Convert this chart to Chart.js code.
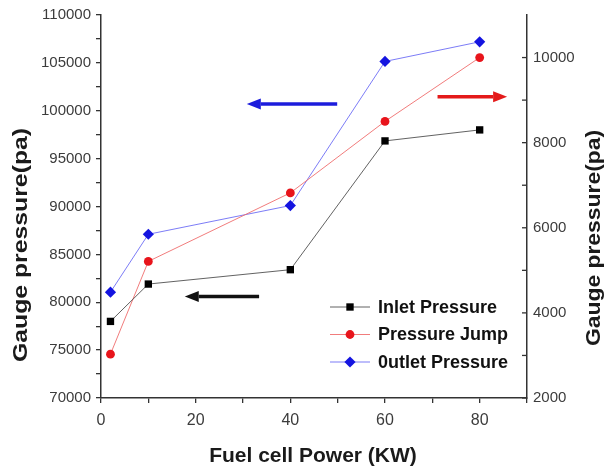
<!DOCTYPE html>
<html>
<head>
<meta charset="utf-8">
<script src="https://cdn.jsdelivr.net/npm/chart.js"></script>
<style>
html, body { margin: 0; padding: 0; background: #fff; }
#wrap { width: 605px; height: 473px; }
</style>
</head>
<body>
<div id="wrap"><canvas id="chart" width="605" height="473"></canvas></div>
<script>
// values
const powerKW = [2, 10, 40, 60, 80];
const inletPressure = [78000, 81900, 83400, 96850, 98000];
const pressureJump = [3030, 5210, 6820, 8500, 10000];
const outletPressure = [81050, 87100, 90100, 105150, 107200];
const seriesNames = ['Inlet Pressure', 'Pressure Jump', '0utlet Pressure'];
const xTitle = 'Fuel cell Power (KW)';
const yTitle = 'Gauge pressure(pa)';

// arrows in data units (x, left axis)
const arrowMarks = [
    { x1: 49.9, x2: 30.8, y: 100700, color: '#1c1cdc' },
    { x1: 71.1, x2: 85.8, y: 101450, color: '#e41a1a' },
    { x1: 33.4, x2: 17.7, y: 80600, color: '#111111' }
];

const toPoints = (ys) => ys.map((v, i) => ({ x: powerKW[i], y: v }));

const axisColor = '#333333';
const tickColor = '#3c3c3c';

const seriesStyle = [
    { line: 'rgba(70, 70, 70, 0.85)', fill: '#000000', style: 'rect', r: 5.2 },
    { line: 'rgba(240, 110, 110, 0.9)', fill: '#e8141b', style: 'circle', r: 4.4 },
    { line: 'rgba(110, 110, 245, 0.9)', fill: '#1414e0', style: 'rectRot', r: 5.6 }
];

function drawMarker(ctx, style, r, x, y) {
    if (Chart.helpers && Chart.helpers.drawPoint) {
        Chart.helpers.drawPoint(ctx, { pointStyle: style, radius: r, borderWidth: 0, rotation: 0 }, x, y);
        return;
    }
    ctx.beginPath();
    ctx.arc(x, y, r, 0, Math.PI * 2);
    ctx.fill();
}

const extras = {
    id: 'extras',
    afterDraw(chart) {
        const ctx = chart.ctx;
        const xs = chart.scales.x, ys = chart.scales.y, y2 = chart.scales.y2;
        ctx.save();

        // inward ticks on the right axis
        ctx.strokeStyle = axisColor;
        ctx.lineWidth = 1.3;
        y2.ticks.forEach(t => {
            if (t.value >= y2.max) return;
            const py = y2.getPixelForValue(t.value);
            ctx.beginPath();
            ctx.moveTo(y2.left, py);
            ctx.lineTo(y2.left - 5, py);
            ctx.stroke();
        });

        // arrows
        arrowMarks.forEach(a => {
            const px1 = xs.getPixelForValue(a.x1);
            const px2 = xs.getPixelForValue(a.x2);
            const py = ys.getPixelForValue(a.y);
            const dir = px2 > px1 ? 1 : -1;
            const head = 14;
            ctx.strokeStyle = a.color;
            ctx.fillStyle = a.color;
            ctx.lineWidth = 3.5;
            ctx.beginPath();
            ctx.moveTo(px1, py);
            ctx.lineTo(px2 - dir * head, py);
            ctx.stroke();
            ctx.beginPath();
            ctx.moveTo(px2, py);
            ctx.lineTo(px2 - dir * head, py - 5.5);
            ctx.lineTo(px2 - dir * head, py + 5.5);
            ctx.closePath();
            ctx.fill();
        });

        // legend
        ctx.font = 'bold 18px "Liberation Sans", Arial, sans-serif';
        ctx.textBaseline = 'middle';
        ctx.textAlign = 'left';
        seriesNames.forEach((name, i) => {
            const s = seriesStyle[i];
            const ly = 307 + i * 27.5;
            ctx.strokeStyle = s.line;
            ctx.lineWidth = 1;
            ctx.beginPath();
            ctx.moveTo(330, ly);
            ctx.lineTo(370, ly);
            ctx.stroke();
            ctx.fillStyle = s.fill;
            drawMarker(ctx, s.style, s.r, 350, ly);
            ctx.fillStyle = '#111111';
            ctx.fillText(name, 378, ly + 1);
        });

        // axis titles
        ctx.fillStyle = '#1a1a1a';
        ctx.font = 'bold 21px "Liberation Sans", Arial, sans-serif';
        ctx.textAlign = 'center';
        ctx.fillText(xTitle, 313, 456);

        ctx.save();
        ctx.translate(21, 245);
        ctx.rotate(-Math.PI / 2);
        ctx.scale(1.18, 1);
        ctx.fillText(yTitle, 0, 0);
        ctx.restore();

        ctx.save();
        ctx.translate(594, 238);
        ctx.rotate(-Math.PI / 2);
        ctx.scale(1.09, 1);
        ctx.fillText(yTitle, 0, 0);
        ctx.restore();

        ctx.restore();
    }
};

new Chart(document.getElementById('chart'), {
    type: 'line',
    data: {
        datasets: [
            {
                label: seriesNames[0],
                data: toPoints(inletPressure),
                yAxisID: 'y',
                borderColor: seriesStyle[0].line,
                borderWidth: 1,
                pointStyle: seriesStyle[0].style,
                pointRadius: seriesStyle[0].r,
                pointBackgroundColor: seriesStyle[0].fill,
                pointBorderWidth: 0,
                tension: 0
            },
            {
                label: seriesNames[1],
                data: toPoints(pressureJump),
                yAxisID: 'y2',
                borderColor: seriesStyle[1].line,
                borderWidth: 1,
                pointStyle: seriesStyle[1].style,
                pointRadius: seriesStyle[1].r,
                pointBackgroundColor: seriesStyle[1].fill,
                pointBorderWidth: 0,
                tension: 0
            },
            {
                label: seriesNames[2],
                data: toPoints(outletPressure),
                yAxisID: 'y',
                borderColor: seriesStyle[2].line,
                borderWidth: 1,
                pointStyle: seriesStyle[2].style,
                pointRadius: seriesStyle[2].r,
                pointBackgroundColor: seriesStyle[2].fill,
                pointBorderWidth: 0,
                tension: 0
            }
        ]
    },
    options: {
        responsive: false,
        animation: false,
        events: [],
        layout: { padding: { top: 15, left: 0, right: 0, bottom: 0 } },
        plugins: {
            legend: { display: false },
            tooltip: { enabled: false }
        },
        scales: {
            x: {
                type: 'linear',
                position: 'bottom',
                min: 0,
                max: 90,
                afterFit: (scale) => { scale.height = 75; },
                border: { display: true, color: axisColor, width: 1.5 },
                grid: { drawOnChartArea: false, tickLength: 5, color: axisColor, lineWidth: 1.3 },
                ticks: {
                    stepSize: 10,
                    autoSkip: false,
                    maxRotation: 0,
                    padding: 8,
                    color: tickColor,
                    font: { family: '"Liberation Sans", Arial, sans-serif', size: 16 },
                    callback: (v) => (v % 20 === 0 ? String(v) : '')
                }
            },
            y: {
                type: 'linear',
                position: 'left',
                min: 70000,
                max: 110000,
                afterFit: (scale) => { scale.width = 101; },
                border: { display: true, color: axisColor, width: 1.5 },
                grid: { drawOnChartArea: false, tickLength: 5, color: axisColor, lineWidth: 1.3 },
                ticks: {
                    stepSize: 2500,
                    autoSkip: false,
                    padding: 5,
                    color: tickColor,
                    font: { family: '"Liberation Sans", Arial, sans-serif', size: 15 },
                    callback: (v) => (v % 5000 === 0 ? String(v) : '')
                }
            },
            y2: {
                type: 'linear',
                position: 'right',
                min: 2000,
                max: 11000,
                afterFit: (scale) => { scale.width = 78; },
                border: { display: true, color: axisColor, width: 1.5 },
                grid: { drawOnChartArea: false, drawTicks: false },
                ticks: {
                    stepSize: 1000,
                    autoSkip: false,
                    padding: 6,
                    color: tickColor,
                    font: { family: '"Liberation Sans", Arial, sans-serif', size: 15 },
                    callback: (v) => (v % 2000 === 0 ? String(v) : '')
                }
            }
        }
    },
    plugins: [extras]
});
</script>
</body>
</html>
